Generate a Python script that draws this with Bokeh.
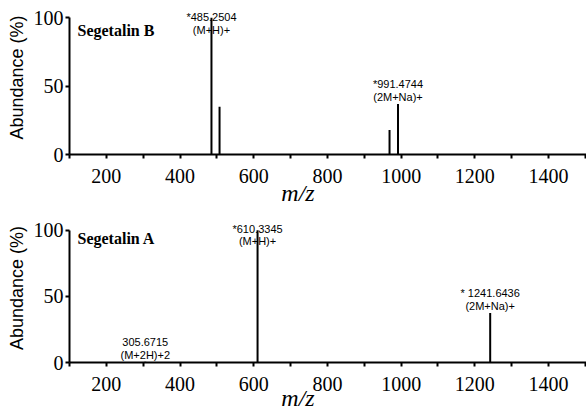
from bokeh.plotting import figure
from bokeh.layouts import column
from bokeh.models import ColumnDataSource, FixedTicker, Range1d
from bokeh.core.properties import value
from bokeh.embed import file_html
from bokeh.resources import INLINE

# ---------------- data ----------------
x_ticks = [200, 400, 600, 800, 1000, 1200, 1400]
x_minor = [100, 300, 500, 700, 900, 1100, 1300, 1500]
y_ticks = [0, 50, 100]

b_mz = [485.2504, 507.2, 968.5, 991.4744]
b_ab = [100, 35, 18, 37]
b_lab_mz = [485.2504, 991.4744]
b_lab_ab = [100, 37]
b_lab_txt = ["*485.2504\n(M+H)+", "*991.4744\n(2M+Na)+"]

a_mz = [305.6715, 610.3345, 1241.6436]
a_ab = [0.5, 100, 37.5]
a_lab_mz = [305.6715, 610.3345, 1241.6436]
a_lab_ab = [0.5, 100, 37.5]
a_lab_txt = ["305.6715\n(M+2H)+2", "*610.3345\n(M+H)+", "* 1241.6436\n(2M+Na)+"]

SERIF = "Liberation Serif"
SANS = "Liberation Sans"
X0, X1 = 100, 1503
# trailing em/en spaces shift the centred axis label to the left, as in the reference
MZ_LABEL = "m/z\u2003\u2003\u2002"


def make_panel(name, mz, ab, lab_mz, lab_ab, lab_txt, height, ytop, border_top,
               border_bottom, mz_standoff, title_off):
    p = figure(width=586, height=height, output_backend="svg", toolbar_location=None,
               x_range=Range1d(X0, X1), y_range=Range1d(0, ytop),
               min_border_left=69, min_border_right=0,
               min_border_top=border_top, min_border_bottom=border_bottom)
    p.outline_line_color = None
    p.xgrid.visible = False
    p.ygrid.visible = False
    p.background_fill_color = "white"
    p.border_fill_color = "white"

    src = ColumnDataSource(dict(x=mz, y0=[0] * len(mz), y1=ab))
    p.segment(x0="x", y0="y0", x1="x", y1="y1", source=src, line_color="black", line_width=2)

    ly = [min(h + 1, 87) for h in lab_ab]
    lsrc = ColumnDataSource(dict(x=lab_mz, y=ly, t=lab_txt))
    p.text(x="x", y="y", text="t", source=lsrc, text_align="center", text_baseline="bottom",
           text_font=value(SANS), text_font_size="11px", text_line_height=1.05, text_color="black")

    tsrc = ColumnDataSource(dict(x=[X0], y=[100], t=[name]))
    p.text(x="x", y="y", text="t", source=tsrc, x_offset=8, y_offset=title_off,
           text_align="left", text_baseline="top", text_font=value(SERIF),
           text_font_size="16px", text_font_style="bold", text_color="black")

    xa = p.xaxis[0]
    xa.ticker = FixedTicker(ticks=x_ticks, minor_ticks=x_minor)
    xa.axis_line_width = 2
    xa.major_tick_line_width = 2
    xa.minor_tick_line_width = 2
    xa.major_tick_out = 4
    xa.major_tick_in = 0
    xa.minor_tick_out = 4
    xa.minor_tick_in = 0
    xa.major_label_text_font = SERIF
    xa.major_label_text_font_size = "20px"
    xa.major_label_text_color = "black"
    xa.major_label_standoff = 10
    xa.axis_label = MZ_LABEL
    xa.axis_label_text_font = SERIF
    xa.axis_label_text_font_size = "24px"
    xa.axis_label_text_font_style = "italic"
    xa.axis_label_text_color = "black"
    xa.axis_label_standoff = mz_standoff

    ya = p.yaxis[0]
    ya.ticker = FixedTicker(ticks=y_ticks, minor_ticks=[])
    ya.bounds = (0, 100)
    ya.axis_line_width = 2
    ya.major_tick_line_width = 2
    ya.major_tick_out = 4
    ya.major_tick_in = 0
    ya.minor_tick_out = 0
    ya.major_label_text_font = SERIF
    ya.major_label_text_font_size = "20px"
    ya.major_label_text_color = "black"
    ya.major_label_standoff = 2
    ya.axis_label = "Abundance (%)"
    ya.axis_label_text_font = SANS
    ya.axis_label_text_font_size = "18px"
    ya.axis_label_text_font_style = "normal"
    ya.axis_label_text_color = "black"
    ya.axis_label_standoff = 4
    return p


top = make_panel("Segetalin B", b_mz, b_ab, b_lab_mz, b_lab_ab, b_lab_txt,
                 height=208, ytop=112.6, border_top=0, border_bottom=54,
                 mz_standoff=-6, title_off=4)
bot = make_panel("Segetalin A", a_mz, a_ab, a_lab_mz, a_lab_ab, a_lab_txt,
                 height=205, ytop=112.6, border_top=5, border_bottom=51,
                 mz_standoff=-9, title_off=0)

layout = column(top, bot, spacing=0)
open("out.html", "w").write(file_html(layout, INLINE))
